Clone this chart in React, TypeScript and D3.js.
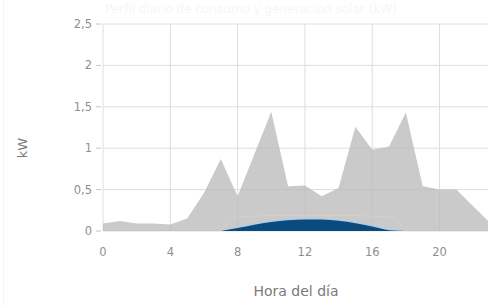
import React from "react";
import * as d3 from "d3";

const hours = [0,1,2,3,4,5,6,7,8,9,10,11,12,13,14,15,16,17,18,19,20,21,22,23];
const consumption = [0.09,0.12,0.09,0.09,0.08,0.15,0.46,0.87,0.42,0.93,1.44,0.54,0.55,0.42,0.52,1.26,0.98,1.02,1.43,0.54,0.5,0.5,0.3,0.1];
const solarHours = [7,8,9,10,11,12,13,14,15,16,17,18];
const solarLight = [0.0,0.05,0.09,0.125,0.145,0.155,0.155,0.14,0.11,0.07,0.025,0.0];
const solarDark = [0.0,0.035,0.075,0.11,0.13,0.14,0.14,0.125,0.095,0.055,0.01,0.0];
const solarRef = [0.0,0.17,0.18,0.185,0.19,0.19,0.19,0.19,0.185,0.18,0.17,0.0];
const yTicks = [0,0.5,1,1.5,2,2.5];
const xTicks = [0,4,8,12,16,20];
const title = "Perfil diario de consumo y generación solar (kW)";

export default function App() {
  const W = 488, H = 305;
  const x = d3.scaleLinear().domain([0, 23]).range([103, 490]);
  const y = d3.scaleLinear().domain([0, 2.5]).range([231, 24]);
  const fmt = (v: number) => String(v).replace(".", ",");

  const areaC = d3.area<number>()
    .x((_, i) => x(hours[i]))
    .y0(y(0))
    .y1((d) => y(d));
  const areaS = d3.area<number>()
    .x((_, i) => x(solarHours[i]))
    .y0(y(0))
    .y1((d) => y(d))
    .curve(d3.curveMonotoneX);
  const lineRef = d3.line<number>()
    .x((_, i) => x(solarHours[i]))
    .y((d) => y(d))
    .curve(d3.curveMonotoneX);

  const font = "'DejaVu Sans', Verdana, sans-serif";
  return (
    <svg width={W} height={H} style={{ position: "fixed", left: 0, top: 0, background: "#fff" }}>
      <text x={105} y={13} fontFamily={font} fontSize={12} fill="#f6f6f6">{title}</text>
      <line x1={3.5} x2={3.5} y1={0} y2={H} stroke="#f4f4f4" />
      <defs>
        <clipPath id="plot"><rect x={103} y={0} width={W - 103} height={232} /></clipPath>
      </defs>
      {yTicks.map((t) => (
        <g key={"y" + t}>
          <line x1={103} x2={W} y1={y(t)} y2={y(t)} stroke="#dedede" />
          <line x1={96} x2={101} y1={y(t)} y2={y(t)} stroke="#c4c4c4" />
          <text x={92} y={y(t) + 4} textAnchor="end" fontFamily={font} fontSize={11.5} fill="#8f8f8f">{fmt(t)}</text>
        </g>
      ))}
      {xTicks.map((t) => (
        <g key={"x" + t}>
          <line x1={x(t)} x2={x(t)} y1={24} y2={231} stroke="#dedede" />
          <text x={x(t)} y={256} textAnchor="middle" fontFamily={font} fontSize={11.5} fill="#8f8f8f">{t}</text>
        </g>
      ))}
      <g clipPath="url(#plot)">
        <path d={areaC(consumption) || ""} fill="#b8b8b8" fillOpacity={0.75} />
        <path d={lineRef(solarRef) || ""} fill="none" stroke="#f0d2b8" strokeWidth={1} strokeOpacity={0.45} />
        <path d={areaS(solarLight) || ""} fill="#a9cdee" />
        <path d={areaS(solarDark) || ""} fill="#0b4a7c" />
      </g>
      <text transform={`translate(27,148) rotate(-90)`} textAnchor="middle" fontFamily={font} fontSize={13} fill="#7a7a7a">kW</text>
      <text x={296} y={296} textAnchor="middle" fontFamily={font} fontSize={14} fill="#7a7a7a">Hora del día</text>
    </svg>
  );
}
